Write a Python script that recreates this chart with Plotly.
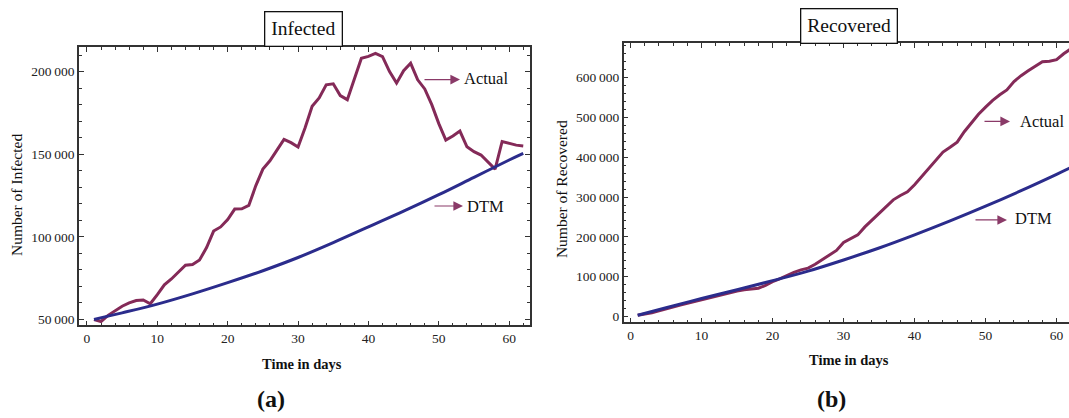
import plotly.graph_objects as go

W, H = 1069, 418

# ---------------- data ----------------
days = list(range(1, 63))

infected_actual = [50000, 48800, 52500, 55500, 58000, 60000, 61500, 61800, 59500, 65000,
                   71000, 74500, 78500, 82800, 83300, 86000, 93500, 103500, 106000, 110500,
                   116800, 117000, 119000, 131000, 141000, 146000, 152500, 159000, 157000, 154400,
                   166000, 179000, 184000, 192000, 192600, 185500, 183000, 196000, 208000, 209200,
                   211000, 209000, 200000, 193000, 200500, 205000, 195000, 189500, 180000, 168500,
                   158500, 161000, 164000, 154500, 151500, 149500, 145000, 141000, 157700, 156500,
                   155500, 155000]

dtm_days = [1, 5, 10, 15, 20, 25, 30, 35, 40, 45, 50, 55, 60, 62]
infected_dtm = [50000, 54000, 59300, 65500, 72300, 79500, 87500, 96500, 106000, 115500,
                125500, 136000, 146500, 150500]

recovered_actual = [3000, 5500, 9500, 14000, 19500, 24500, 29000, 33000, 37500, 42000,
                    46500, 51000, 55500, 60000, 64000, 67000, 69500, 71000, 78000, 87500,
                    94500, 103000, 111000, 117000, 121500, 131000, 143000, 155000, 166000, 186000,
                    196500, 205000, 225000, 242000, 259000, 278000, 293000, 304000, 313000, 331000,
                    352000, 373000, 393000, 413000, 425000, 438000, 464000, 487000, 508000, 526000,
                    543000, 557000, 569000, 590000, 605000, 617000, 628000, 640000, 641000, 645000,
                    660000, 672000]

recovered_dtm = [3000, 22000, 45000, 67000, 90000, 114000, 142000, 172000, 205000, 240000,
                 277000, 316000, 357000, 374000]

x_ticks = [0, 10, 20, 30, 40, 50, 60]
inf_ticks = [50000, 100000, 150000, 200000]
rec_ticks = [0, 100000, 200000, 300000, 400000, 500000, 600000]


def fmt(v):
    return f"{v:,}".replace(",", "\u2009")


ACT = "#842a58"
DTM = "#2b2c8c"
FONT = "Liberation Serif"

fig = go.Figure()

fig.add_trace(go.Scatter(x=days, y=infected_actual, mode="lines",
                         line=dict(color=ACT, width=3), xaxis="x", yaxis="y"))
fig.add_trace(go.Scatter(x=dtm_days, y=infected_dtm, mode="lines",
                         line=dict(color=DTM, width=3, shape="spline"), xaxis="x", yaxis="y"))
fig.add_trace(go.Scatter(x=days, y=recovered_actual, mode="lines",
                         line=dict(color=ACT, width=3), xaxis="x2", yaxis="y2"))
fig.add_trace(go.Scatter(x=dtm_days, y=recovered_dtm, mode="lines",
                         line=dict(color=DTM, width=3, shape="spline"), xaxis="x2", yaxis="y2"))


def px(x):
    return x / W


def py(y):
    return 1 - y / H


axis_common = dict(showgrid=False, zeroline=False, showline=True, linecolor="#333",
                   linewidth=1.5, ticks="inside", ticklen=5, tickwidth=1.2, tickcolor="#333",
                   tickfont=dict(family=FONT, size=13.5, color="#222"))

fig.update_layout(
    width=W, height=H, margin=dict(l=0, r=0, t=0, b=0),
    paper_bgcolor="white", plot_bgcolor="white", showlegend=False,
    xaxis=dict(domain=[px(79), px(530)], range=[-1.13, 62.96], anchor="y",
               tickvals=x_ticks, ticktext=[str(v) for v in x_ticks], mirror="allticks",
               minor=dict(dtick=2, tick0=0, ticks="inside", ticklen=3, tickcolor="#333"),
               **axis_common),
    yaxis=dict(domain=[py(327), py(47)], range=[46400, 215000], anchor="x",
               tickvals=inf_ticks, ticktext=[fmt(v) for v in inf_ticks], mirror="allticks",
               minor=dict(dtick=10000, tick0=0, ticks="inside", ticklen=3, tickcolor="#333"),
               **axis_common),
    xaxis2=dict(domain=[px(623.7), 1.0], range=[-0.97, 61.75], anchor="y2",
                tickvals=x_ticks, ticktext=[str(v) for v in x_ticks], mirror="allticks",
                minor=dict(dtick=2, tick0=0, ticks="inside", ticklen=3, tickcolor="#333"),
                **axis_common),
    yaxis2=dict(domain=[py(324), py(43)], range=[-15000, 687500], anchor="x2",
                tickvals=rec_ticks, ticktext=[fmt(v) for v in rec_ticks], mirror=False,
                minor=dict(dtick=20000, tick0=0, ticks="inside", ticklen=3, tickcolor="#333"),
                **axis_common),
)

ann = []


def text(x, y, s, size, bold=False, angle=0, box=False):
    d = dict(x=px(x), y=py(y), xref="paper", yref="paper", showarrow=False,
             text=f"<b>{s}</b>" if bold else s, textangle=angle,
             xanchor="center", yanchor="middle",
             font=dict(family=FONT, size=size, color="#111"))
    if box:
        d.update(bordercolor="#111", borderwidth=1.3, borderpad=6, bgcolor="white")
    ann.append(d)


def arrow(x0, x1, y):
    ann.append(dict(x=px(x1), y=py(y), xref="paper", yref="paper", text="",
                    showarrow=True, ax=x0 - x1, ay=0, arrowhead=2, arrowsize=1.6,
                    arrowwidth=1.2, arrowcolor="#8a3a68", standoff=0))


# titles
text(303, 29, "Infected", 19.5, box=True)
text(849, 26, "Recovered", 19.5, box=True)
# axis titles
text(302, 366, "Time in days", 14.5, bold=True)
text(849, 362, "Time in days", 14.5, bold=True)
text(16, 196, "Number of Infected", 15.5, angle=-90)
text(561, 190, "Number of Recovered", 15.5, angle=-90)
# panel labels
text(271, 401, "(a)", 24, bold=True)
text(831, 401, "(b)", 24, bold=True)
# series labels
arrow(423, 460, 80)
text(486, 79, "Actual", 16.5)
arrow(433, 463, 207)
text(485, 207, "DTM", 16.5)
arrow(983, 1010, 122)
text(1042, 122, "Actual", 16.5)
arrow(974, 1007, 221)
text(1033, 220, "DTM", 16.5)

fig.update_layout(annotations=ann)

fig.write_html("out.html")
